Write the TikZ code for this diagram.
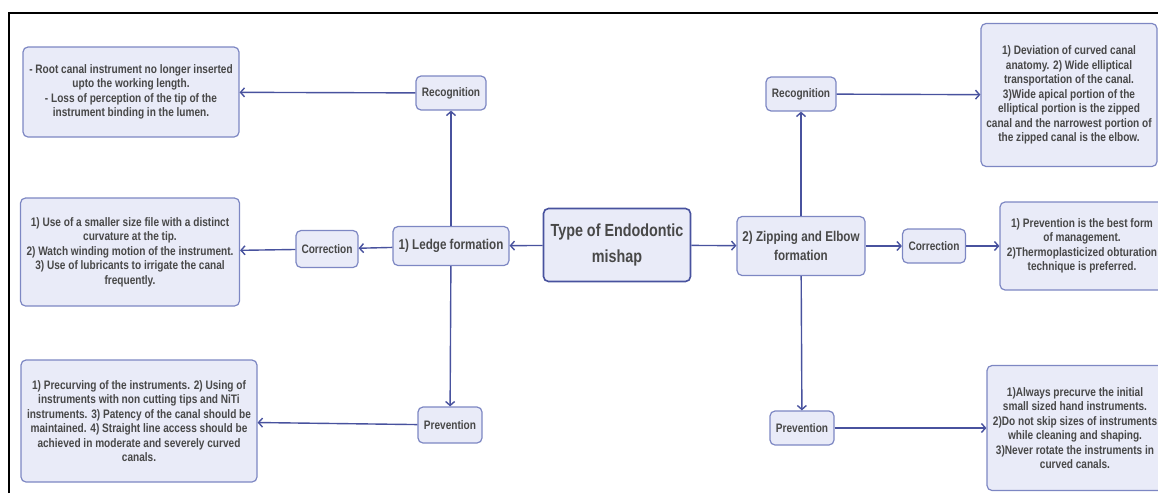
\documentclass[tikz,border=0pt]{standalone}
\usepackage{fontspec}
\setmainfont[FakeStretch=0.82]{Liberation Sans}
\usetikzlibrary{arrows.meta}
\definecolor{edgeblue}{RGB}{72,82,158}
\definecolor{boxfill}{RGB}{233,235,248}
\definecolor{boxline}{RGB}{125,135,195}
\definecolor{txtgray}{RGB}{72,72,72}

\begin{document}
\begin{tikzpicture}[x=1pt, y=-1pt,
    box/.style={draw=boxline, fill=boxfill, rounded corners=5pt, line width=1.2pt, inner sep=0pt, align=center, text=txtgray, font=\bfseries\fontsize{12.3}{14.5}\selectfont},
    tag/.style={box, minimum height=34pt},
    topic/.style={box, font=\bfseries\fontsize{14.2}{19}\selectfont},
    link/.style={draw=edgeblue, line width=1.4pt, -{Straight Barb[length=4pt,width=9pt]}}
  ]
  \useasboundingbox (0,0) rectangle (1158,493);
  \begin{scope}
  \clip (0,0) rectangle (1158,493);

  % Frame
  \draw[line width=2pt] (9,493) -- (9,13) -- (1158,13);

  % Centre
  \node[box, draw=edgeblue, line width=1.6pt, minimum width=147pt, minimum height=73pt, font=\bfseries\fontsize{17.5}{26}\selectfont] (root) at (617,245) {Type of Endodontic\\mishap};
  \node[topic, minimum width=116pt, minimum height=39pt] (ledge) at (451,246) {1) Ledge formation};
  \node[topic, minimum width=128pt, minimum height=59pt] (zip) at (801,246) {2) Zipping and Elbow\\formation};

  % Steps
  \node[tag, minimum width=70pt] (lrec) at (451,93) {Recognition};
  \node[tag, minimum width=62pt, minimum height=37pt] (lcor) at (327,249) {Correction};
  \node[tag, minimum width=64pt, minimum height=36pt] (lprev) at (450,425) {Prevention};
  \node[tag, minimum width=70pt] (rrec) at (801,94) {Recognition};
  \node[tag, minimum width=63pt] (rcor) at (934,246) {Correction};
  \node[tag, minimum width=64pt] (rprev) at (802,428) {Prevention};

  % Notes
  \node[box, minimum width=216pt, minimum height=90pt] (lrecnote) at (131,92) {- Root canal instrument no longer inserted\\upto the working length.\\- Loss of perception of the tip of the\\instrument binding in the lumen.};
  \node[box, minimum width=219pt, minimum height=108pt] (lcornote) at (130,252) {1) Use of a smaller size file with a distinct\\curvature at the tip.\\2) Watch winding motion of the instrument.\\3) Use of lubricants to irrigate the canal\\frequently.};
  \node[box, minimum width=236pt, minimum height=122pt] (lprevnote) at (139,421) {1) Precurving of the instruments. 2) Using of\\instruments with non cutting tips and NiTi\\instruments. 3) Patency of the canal should be\\maintained. 4) Straight line access should be\\achieved in moderate and severely curved\\canals.};
  \node[box, minimum width=176pt, minimum height=143pt] (rrecnote) at (1069,95) {1) Deviation of curved canal\\anatomy. 2) Wide elliptical\\transportation of the canal.\\3)Wide apical portion of the\\elliptical portion is the zipped\\canal and the narrowest portion of\\the zipped canal is the elbow.};
  \node[box, minimum width=164pt, minimum height=88pt] (rcornote) at (1082,246) {1) Prevention is the best form\\of management.\\2)Thermoplasticized obturation\\technique is preferred.};
  \node[box, minimum width=176pt, minimum height=125pt] (rprevnote) at (1075,428) {1)Always precurve the initial\\small sized hand instruments.\\2)Do not skip sizes of instruments\\while cleaning and shaping.\\3)Never rotate the instruments in\\curved canals.};

  % Edges
  \draw[link] (root) -- (ledge);
  \draw[link] (root) -- (zip);
  \foreach \a/\b in {ledge/lrec, ledge/lcor, ledge/lprev, lrec/lrecnote, lcor/lcornote, lprev/lprevnote,
                     zip/rrec, zip/rcor, zip/rprev, rrec/rrecnote, rcor/rcornote, rprev/rprevnote} {
    \draw[link] (\a) -- (\b);
  }
  \end{scope}
\end{tikzpicture}
\end{document}
